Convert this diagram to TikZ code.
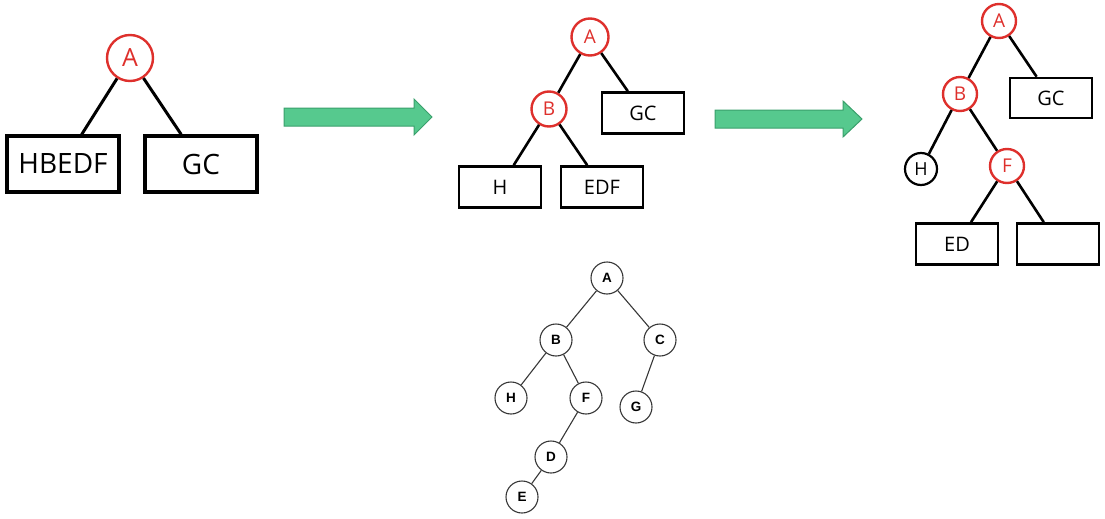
\documentclass[tikz,border=0pt]{standalone}
\usepackage{fontspec}
\setmainfont{Open Sans}
\newfontfamily\treefont{Liberation Sans}
\usetikzlibrary{positioning}
\definecolor{nodered}{RGB}{222,48,44}
\definecolor{arrowfill}{RGB}{86,201,142}
\definecolor{arrowline}{RGB}{58,160,108}
\definecolor{treegray}{RGB}{55,55,55}

\begin{document}
\begin{tikzpicture}[x=1pt, y=-1pt,
    redc/.style={circle, draw=nodered, line width=2.4pt, text=nodered, inner sep=0pt},
    blkc/.style={circle, draw, line width=2.2pt, inner sep=0pt, minimum size=32pt,
                  font=\fontsize{18}{18}\selectfont},
    bigbox/.style={draw, line width=3.2pt, inner sep=0pt, minimum width=112pt,
                  minimum height=56pt, font=\fontsize{28}{28}\selectfont},
    box/.style={draw, line width=2.6pt, inner sep=0pt, minimum width=82pt,
                  minimum height=41pt, font=\fontsize{20}{20}\selectfont},
    edge/.style={line width=2.6pt},
    tnode/.style={circle, draw=treegray, line width=1.1pt, inner sep=0pt,
                  minimum size=32pt, font=\treefont\bfseries\fontsize{13.5}{13.5}\selectfont},
    tedge/.style={draw=treegray, line width=1.1pt},
    bigarrow/.style={fill=arrowfill, draw=arrowline, line width=1pt, line join=miter}]
  \useasboundingbox (0,0) rectangle (1105,519);

  \node[redc, minimum size=46pt, font=\fontsize{25}{25}\selectfont] (a1) at (130,58) {A};
  \node[bigbox] (hbedf) at (63,164) {HBEDF};
  \node[bigbox] (gc1) at (201,164) {GC};
  \draw[edge, line width=3pt] (a1) -- (hbedf);
  \draw[edge, line width=3pt] (a1) -- (gc1);

  \draw[bigarrow] (284,108) -- (414,108) -- (414,99) -- (432,117) -- (414,135)
    -- (414,126) -- (284,126) -- cycle;

  \node[redc, minimum size=37pt, font=\fontsize{19}{19}\selectfont] (a2) at (590,37) {A};
  \node[redc, minimum size=35pt, font=\fontsize{19}{19}\selectfont] (b2) at (549,109) {B};
  \node[box] (gc2) at (643,113) {GC};
  \node[box] (h2) at (500,187) {H};
  \node[box] (edf2) at (602,187) {EDF};
  \draw[edge] (a2) -- (b2);
  \draw[edge] (a2) -- (gc2);
  \draw[edge] (b2) -- (h2);
  \draw[edge] (b2) -- (edf2);

  \draw[bigarrow] (715,110) -- (843,110) -- (843,101) -- (862,119) -- (843,137)
    -- (843,128) -- (715,128) -- cycle;

  \node[redc, minimum size=34pt, font=\fontsize{19}{19}\selectfont] (a3) at (999,21) {A};
  \node[redc, minimum size=34pt, font=\fontsize{19}{19}\selectfont] (b3) at (960,94) {B};
  \node[box, minimum height=40pt] (gc3) at (1051,98) {GC};
  \node[blkc] (h3) at (921,169) {H};
  \node[redc, minimum size=34pt, font=\fontsize{19}{19}\selectfont] (f3) at (1007,166) {F};
  \node[box] (ed3) at (957,244) {ED};
  \node[box] (empty3) at (1058,244) {};
  \draw[edge] (a3) -- (b3);
  \draw[edge] (a3) -- (gc3);
  \draw[edge] (b3) -- (h3);
  \draw[edge] (b3) -- (f3);
  \draw[edge] (f3) -- (ed3);
  \draw[edge] (f3) -- (empty3);

  \node[tnode] (ta) at (607,278) {A};
  \node[tnode] (tb) at (556,340) {B};
  \node[tnode] (tc) at (660,340) {C};
  \node[tnode] (th) at (511,398) {H};
  \node[tnode] (tf) at (586,398) {F};
  \node[tnode] (tg) at (636,407) {G};
  \node[tnode] (td) at (551,457) {D};
  \node[tnode] (te) at (522,497) {E};
  \draw[tedge] (ta) -- (tb);
  \draw[tedge] (ta) -- (tc);
  \draw[tedge] (tb) -- (th);
  \draw[tedge] (tb) -- (tf);
  \draw[tedge] (tc) -- (tg);
  \draw[tedge] (tf) -- (td);
  \draw[tedge] (td) -- (te);
\end{tikzpicture}
\end{document}
